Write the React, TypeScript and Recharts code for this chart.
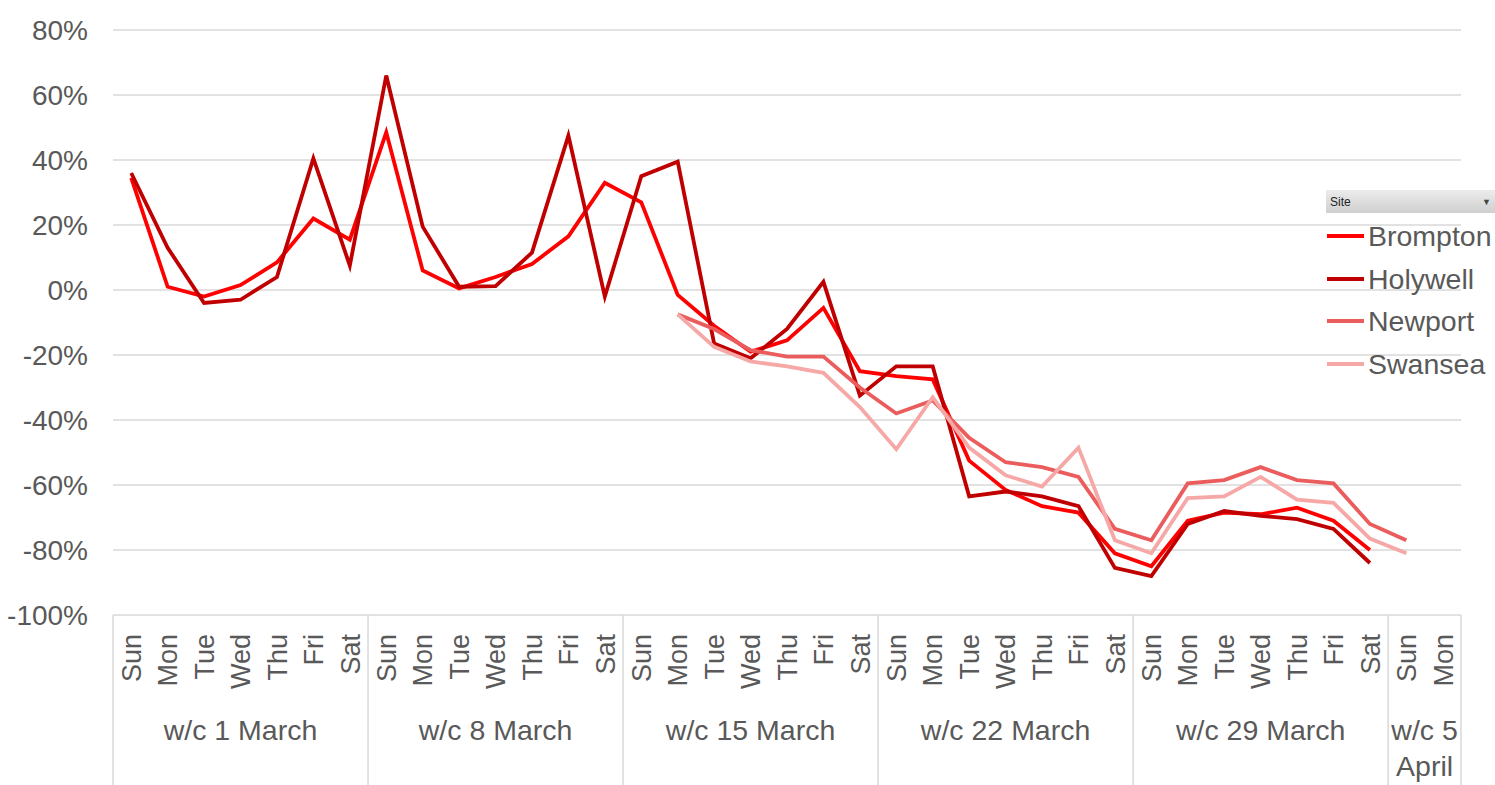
import { LineChart, Line, XAxis, YAxis, CartesianGrid } from 'recharts'

const days = [
  'Sun', 'Mon', 'Tue', 'Wed', 'Thu', 'Fri', 'Sat',
  'Sun', 'Mon', 'Tue', 'Wed', 'Thu', 'Fri', 'Sat',
  'Sun', 'Mon', 'Tue', 'Wed', 'Thu', 'Fri', 'Sat',
  'Sun', 'Mon', 'Tue', 'Wed', 'Thu', 'Fri', 'Sat',
  'Sun', 'Mon', 'Tue', 'Wed', 'Thu', 'Fri', 'Sat',
  'Sun', 'Mon',
]
const weeks = ['w/c 1 March', 'w/c 8 March', 'w/c 15 March', 'w/c 22 March', 'w/c 29 March', 'w/c 5 April']

const brompton = [
  34.5, 1, -2, 1.5, 8.5, 22, 15.5,
  48.5, 6, 0.5, 4, 8, 16.5, 33,
  27, -1.5, -11, -19, -15.5, -5.5, -25,
  -26.5, -27.5, -52.5, -61.5, -66.5, -68.5, -81,
  -85, -71, -68.5, -69, -67, -71, -80,
  null, null,
]
const holywell = [
  36, 13, -4, -3, 4, 40.5, 7.5,
  66, 19.5, 1, 1.2, 11.5, 47.5, -2,
  35, 39.5, -16.5, -21, -12, 2.5, -32.5,
  -23.5, -23.5, -63.5, -62, -63.5, -66.5, -85.5,
  -88, -72, -68, -69.5, -70.5, -73.5, -84,
  null, null,
]
const newport = [
  null, null, null, null, null, null, null,
  null, null, null, null, null, null, null,
  null, -7.5, -12, -18.5, -20.5, -20.5, -30,
  -38, -34, -45.5, -53, -54.5, -57.5, -73.5,
  -77, -59.5, -58.5, -54.5, -58.5, -59.5, -72,
  -77, null,
]
const swansea = [
  null, null, null, null, null, null, null,
  null, null, null, null, null, null, null,
  null, -7.5, -17.5, -22, -23.5, -25.5, -36,
  -49, -33, -48.5, -57, -60.5, -48.5, -77,
  -81, -64, -63.5, -57.5, -64.5, -65.5, -76.5,
  -81, null,
]
const yTicks = [-100, -80, -60, -40, -20, 0, 20, 40, 60, 80]

const series = [
  { name: 'Brompton', color: '#FF0000' },
  { name: 'Holywell', color: '#C00000' },
  { name: 'Newport', color: '#EB5C5C' },
  { name: 'Swansea', color: '#F6A8A6' },
]

const data = days.map((day, i) => ({
  day,
  Brompton: brompton[i],
  Holywell: holywell[i],
  Newport: newport[i],
  Swansea: swansea[i],
}))

const W = 1495
const H = 785
const PLOT_LEFT = 113
const PLOT_RIGHT = 1461
const PLOT_TOP = 30
const PLOT_BOTTOM = 615
const STEP = (PLOT_RIGHT - PLOT_LEFT) / days.length
const FONT = '"Liberation Sans", Arial, sans-serif'
const TEXT = '#595959'
const GRID = '#D9D9D9'

const YTick = ({ y, payload }: any) => (
  <text x={88} y={y} dy="0.35em" textAnchor="end" fill={TEXT} fontSize={28} fontFamily={FONT}>
    {`${payload.value}%`}
  </text>
)

const DayTick = (props: any) => {
  const { x, payload } = props
  const i = props.index ?? payload.index
  const wk = Math.floor(i / 7)
  const lastWeek = wk === weeks.length - 1
  return (
    <g>
      <text
        x={x}
        y={634}
        transform={`rotate(-90 ${x} 634)`}
        dy="0.36em"
        textAnchor="end"
        fill={TEXT}
        fontSize={27}
        fontFamily={FONT}
      >
        {payload.value}
      </text>
      {i % 7 === 0 && (
        <line x1={x - STEP / 2} x2={x - STEP / 2} y1={PLOT_BOTTOM} y2={H} stroke={GRID} strokeWidth={1.5} />
      )}
      {i === days.length - 1 && (
        <line x1={x + STEP / 2} x2={x + STEP / 2} y1={PLOT_BOTTOM} y2={H} stroke={GRID} strokeWidth={1.5} />
      )}
      {i % 7 === 3 && !lastWeek && (
        <text x={x} y={740} textAnchor="middle" fill={TEXT} fontSize={28.5} fontFamily={FONT}>
          {weeks[wk]}
        </text>
      )}
      {lastWeek && i % 7 === 0 && (
        <text x={x + STEP / 2} y={740} textAnchor="middle" fill={TEXT} fontSize={28.5} fontFamily={FONT}>
          <tspan x={x + STEP / 2}>{weeks[wk].split(' ').slice(0, 2).join(' ')}</tspan>
          <tspan x={x + STEP / 2} dy={36}>{weeks[wk].split(' ').slice(2).join(' ')}</tspan>
        </text>
      )}
    </g>
  )
}

function SiteLegend() {
  return (
    <div style={{ position: 'absolute', left: 1318, top: 190, width: 177, fontFamily: FONT }}>
      <div
        style={{
          height: 23,
          marginLeft: 8,
          background: 'linear-gradient(#ececec, #cfcfcf)',
          display: 'flex',
          alignItems: 'center',
          justifyContent: 'space-between',
          padding: '0 4px',
          fontSize: 12,
          color: '#222',
        }}
      >
        <span>Site</span>
        <span style={{ fontSize: 9, color: '#444' }}>▼</span>
      </div>
      {series.map((s, i) => (
        <div
          key={s.name}
          style={{
            position: 'absolute',
            left: 9,
            top: 29 + i * 42.5,
            display: 'flex',
            alignItems: 'center',
            whiteSpace: 'nowrap',
          }}
        >
          <svg width={37} height={6} style={{ marginRight: 4 }}>
            <line x1={0} x2={37} y1={3} y2={3} stroke={s.color} strokeWidth={4} />
          </svg>
          <span style={{ fontSize: 28.5, color: TEXT, lineHeight: '34px' }}>{s.name}</span>
        </div>
      ))}
    </div>
  )
}

export default function App() {
  return (
    <div style={{ position: 'absolute', left: 0, top: 0, width: W, height: H, background: '#fff', overflow: 'hidden' }}>
      <LineChart
        width={W}
        height={H}
        data={data}
        margin={{ top: PLOT_TOP, right: W - PLOT_RIGHT, left: 0, bottom: 0 }}
      >
        <CartesianGrid stroke={GRID} strokeWidth={1.5} vertical={false} />
        <XAxis
          dataKey="day"
          interval={0}
          axisLine={false}
          tickLine={false}
          height={H - PLOT_BOTTOM}
          padding={{ left: STEP / 2, right: STEP / 2 }}
          tick={<DayTick />}
        />
        <YAxis
          domain={[-100, 80]}
          ticks={yTicks}
          width={PLOT_LEFT}
          axisLine={false}
          tickLine={false}
          tick={<YTick />}
        />
        {series.map((s) => (
          <Line
            key={s.name}
            type="linear"
            dataKey={s.name}
            stroke={s.color}
            strokeWidth={3.8}
            dot={false}
            activeDot={false}
            isAnimationActive={false}
          />
        ))}
      </LineChart>
      <SiteLegend />
    </div>
  )
}
